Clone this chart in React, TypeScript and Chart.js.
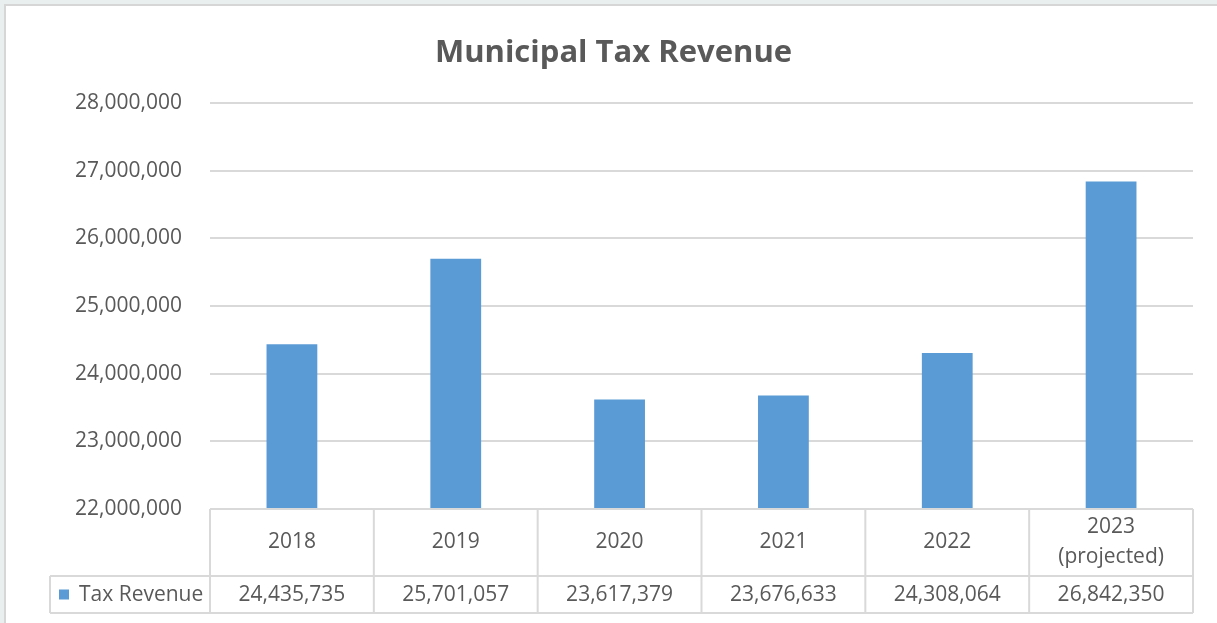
import React, { useEffect, useRef } from "react";
import { Chart, registerables } from "chart.js";

Chart.register(...registerables);

const categoryLines: string[][] = [
  ["2018"],
  ["2019"],
  ["2020"],
  ["2021"],
  ["2022"],
  ["2023", "(projected)"],
];
const seriesName = "Tax Revenue";
const taxRevenue = [24435735, 25701057, 23617379, 23676633, 24308064, 26842350];
const yMin = 22000000;
const yMax = 28000000;
const yStep = 1000000;

const TEXT = "#595959";
const GRID = "#d9d9d9";
const BAR = "#5b9bd5";
const FONT = "'Open Sans', sans-serif";

const fmt = (v: number) => Math.round(v).toLocaleString("en-US");

const dataTablePlugin = {
  id: "dataTable",
  afterDraw(chart: any) {
    const { ctx, chartArea, scales } = chart;
    const xs = scales.x;
    const n = categoryLines.length;
    const left = chartArea.left;
    const right = chartArea.right;
    const w = (right - left) / n;
    const top = chartArea.bottom;
    const row1 = top + 67;
    const row2 = row1 + 37;
    const legendLeft = 50;
    ctx.save();
    ctx.strokeStyle = GRID;
    ctx.lineWidth = 2;
    ctx.beginPath();
    ctx.moveTo(left, top);
    ctx.lineTo(right, top);
    ctx.moveTo(legendLeft, row1);
    ctx.lineTo(right, row1);
    ctx.moveTo(legendLeft, row2);
    ctx.lineTo(right, row2);
    for (let i = 0; i <= n; i++) {
      const x = left + i * w;
      ctx.moveTo(x, top);
      ctx.lineTo(x, row2);
    }
    ctx.moveTo(legendLeft, row1);
    ctx.lineTo(legendLeft, row2);
    ctx.stroke();

    ctx.fillStyle = TEXT;
    ctx.font = `21px ${FONT}`;
    ctx.textAlign = "center";
    ctx.textBaseline = "middle";
    for (let i = 0; i < n; i++) {
      const cx = xs.getPixelForValue(i);
      const lines = categoryLines[i];
      const lh = 30;
      const mid = (top + row1) / 2;
      lines.forEach((ln, j) => {
        ctx.fillText(ln, cx, mid + (j - (lines.length - 1) / 2) * lh);
      });
      ctx.fillText(fmt(taxRevenue[i]), cx, (row1 + row2) / 2 + 1);
    }
    // legend cell
    const midR = (row1 + row2) / 2;
    ctx.fillStyle = BAR;
    ctx.fillRect(legendLeft + 9, midR - 5, 10, 10);
    ctx.fillStyle = TEXT;
    ctx.textAlign = "left";
    ctx.fillText(seriesName, legendLeft + 29, midR + 1);
    ctx.restore();
  },
};

export default function App() {
  const ref = useRef<HTMLCanvasElement | null>(null);
  useEffect(() => {
    if (!ref.current) return;
    const chart = new Chart(ref.current, {
      type: "bar",
      data: {
        labels: categoryLines,
        datasets: [
          {
            label: seriesName,
            data: taxRevenue,
            backgroundColor: BAR,
            borderWidth: 0,
            categoryPercentage: 1,
            barPercentage: 0.31,
            yAxisID: "y",
          },
        ],
      },
      options: {
        responsive: false,
        animation: false,
        layout: { padding: { left: 10, right: 0, top: 0, bottom: 114 } },
        plugins: {
          legend: { display: false },
          tooltip: { enabled: false },
          title: {
            display: true,
            text: "Municipal Tax Revenue",
            color: TEXT,
            font: { family: FONT, size: 31, weight: "bold" },
            padding: { top: 35, bottom: 31 },
          },
        },
        scales: {
          x: { display: false, offset: true },
          y: {
            position: "left",
            min: yMin,
            max: yMax,
            border: { display: false },
            grid: { color: GRID, lineWidth: 2, drawTicks: false },
            ticks: {
              stepSize: yStep,
              padding: 28,
              color: TEXT,
              font: { family: FONT, size: 21 },
              callback: (v: any) => fmt(Number(v)),
            },
            afterFit: (scale: any) => {
              scale.width = 200;
            },
          },
          yRight: {
            position: "right",
            display: true,
            min: yMin,
            max: yMax,
            border: { display: false },
            grid: { display: false, drawTicks: false },
            ticks: { display: false },
            afterFit: (scale: any) => {
              scale.width = 24;
            },
          },
        },
      },
      plugins: [dataTablePlugin],
    });
    return () => chart.destroy();
  }, []);

  return (
    <div
      style={{
        position: "fixed",
        left: 0,
        top: 0,
        width: 1217,
        height: 623,
        background: "#e9efef",
        overflow: "hidden",
      }}
    >
      <div
        style={{
          position: "absolute",
          left: 4,
          top: 4,
          width: 1230,
          height: 640,
          background: "#ffffff",
          borderLeft: "2px solid #d6d6d6",
          borderTop: "2px solid #d6d6d6",
        }}
      />
      <canvas
        ref={ref}
        width={1217}
        height={623}
        style={{ position: "absolute", left: 0, top: 0, width: 1217, height: 623 }}
      />
    </div>
  );
}
